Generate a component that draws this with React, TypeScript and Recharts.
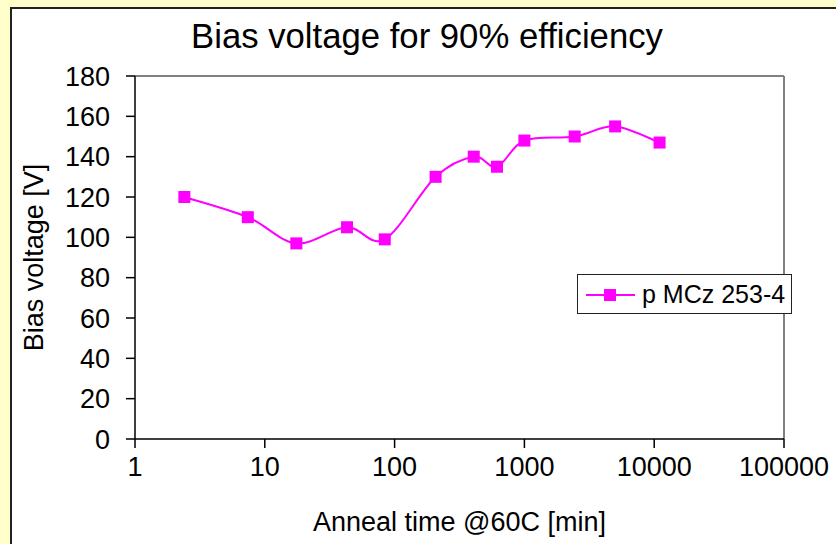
import React from 'react';
import { LineChart, Line, XAxis, YAxis, ReferenceLine, Label, Legend } from 'recharts';

// anneal time at 60C in minutes, and the bias needed for 90% efficiency
const annealMinutes = [2.4, 7.4, 17.5, 43, 84, 207, 407, 615, 1000, 2440, 5000, 11000];
const biasVolts = [120, 110, 97, 105, 99, 130, 140, 135, 148, 150, 155, 147];

const xTicks = [1, 10, 100, 1000, 10000, 100000];
const yTicks = [0, 20, 40, 60, 80, 100, 120, 140, 160, 180];

const seriesName = 'p MCz 253-4';
const chartTitle = 'Bias voltage for 90% efficiency';
const xTitle = 'Anneal time @60C [min]';
const yTitle = 'Bias voltage [V]';

const data = annealMinutes.map((t, i) => ({ t, v: biasVolts[i] }));

const FONT = '"Liberation Sans", Arial, sans-serif';
const MAGENTA = '#FF00FF';

// Excel-style smoothing: cubic bezier with (p2 - p0) / 6 control points
const excelSmooth = (context: any) => {
  let pts: number[][] = [];
  return {
    areaStart() {},
    areaEnd() {},
    lineStart() {
      pts = [];
    },
    point(x: number, y: number) {
      pts.push([+x, +y]);
    },
    lineEnd() {
      if (!pts.length) return;
      context.moveTo(pts[0][0], pts[0][1]);
      for (let i = 0; i < pts.length - 1; i++) {
        const p0 = pts[Math.max(i - 1, 0)];
        const p1 = pts[i];
        const p2 = pts[i + 1];
        const p3 = pts[Math.min(i + 2, pts.length - 1)];
        context.bezierCurveTo(
          p1[0] + (p2[0] - p0[0]) / 6,
          p1[1] + (p2[1] - p0[1]) / 6,
          p2[0] - (p3[0] - p1[0]) / 6,
          p2[1] - (p3[1] - p1[1]) / 6,
          p2[0],
          p2[1]
        );
      }
    },
  };
};

const SquareDot = (props: any) => {
  const { cx, cy, index } = props;
  if (cx == null || cy == null) return null;
  return <rect key={`dot-${index}`} x={cx - 6} y={cy - 6} width={12} height={12} fill={MAGENTA} />;
};

const LegendBox = () => (
  <div
    style={{
      width: 213,
      height: 38,
      border: '1px solid #222',
      background: '#fff',
      display: 'flex',
      alignItems: 'center',
      fontFamily: FONT,
      fontSize: 25,
      color: '#000',
    }}
  >
    <svg width={64} height={38} style={{ flex: 'none' }}>
      <line x1={8} x2={57} y1={20} y2={20} stroke={MAGENTA} strokeWidth={2} />
      <rect x={26} y={14} width={12} height={12} fill={MAGENTA} />
    </svg>
    <span>{seriesName}</span>
  </div>
);

export default function App() {
  return (
    <div
      style={{
        position: 'absolute',
        left: 0,
        top: 0,
        width: 836,
        height: 544,
        overflow: 'hidden',
        background: '#FFFFCC',
      }}
    >
      <div
        style={{
          position: 'absolute',
          left: 10,
          top: 7,
          width: 900,
          height: 600,
          background: '#fff',
          borderLeft: '2px solid #222',
          borderTop: '2px solid #222',
        }}
      />
      <div
        style={{
          position: 'absolute',
          left: 0,
          width: 836,
          top: 19,
          textAlign: 'center',
          paddingLeft: 18,
          boxSizing: 'border-box',
          fontFamily: FONT,
          fontSize: 34.7,
          lineHeight: '34px',
          color: '#000',
        }}
      >
        {chartTitle}
      </div>
      <div style={{ position: 'absolute', left: 0, top: 0 }}>
        <LineChart width={836} height={544} data={data} margin={{ top: 76, right: 52, bottom: 0, left: 0 }}>
          <XAxis
            dataKey="t"
            type="number"
            scale="log"
            domain={[1, 100000]}
            ticks={xTicks}
            allowDataOverflow
            height={105}
            tickSize={9}
            tickMargin={9}
            interval={0}
            axisLine={{ stroke: '#000', strokeWidth: 1.5 }}
            tickLine={{ stroke: '#000', strokeWidth: 1.5 }}
            tick={{ fill: '#000', fontSize: 27, fontFamily: FONT }}
          >
            <Label
              content={({ viewBox }: any) => (
                <text
                  x={viewBox.x + viewBox.width / 2}
                  y={viewBox.y + 92}
                  textAnchor="middle"
                  fontSize={27}
                  fontFamily={FONT}
                  fill="#000"
                >
                  {xTitle}
                </text>
              )}
            />
          </XAxis>
          <YAxis
            dataKey="v"
            domain={[0, 180]}
            ticks={yTicks}
            width={135}
            tickSize={9}
            tickMargin={16}
            interval={0}
            axisLine={{ stroke: '#000', strokeWidth: 1.5 }}
            tickLine={{ stroke: '#000', strokeWidth: 1.5 }}
            tick={{ fill: '#000', fontSize: 27, fontFamily: FONT }}
          >
            <Label
              content={({ viewBox }: any) => {
                const cx = 43;
                const cy = viewBox.y + viewBox.height / 2;
                return (
                  <text
                    x={cx}
                    y={cy}
                    transform={`rotate(-90, ${cx}, ${cy})`}
                    textAnchor="middle"
                    fontSize={27}
                    fontFamily={FONT}
                    fill="#000"
                  >
                    {yTitle}
                  </text>
                );
              }}
            />
          </YAxis>
          <ReferenceLine y={180} stroke="#808080" strokeWidth={2} />
          <ReferenceLine x={100000} stroke="#808080" strokeWidth={2} />
          <Line
            dataKey="v"
            name={seriesName}
            type={excelSmooth as any}
            stroke={MAGENTA}
            strokeWidth={2}
            dot={<SquareDot />}
            activeDot={false}
            isAnimationActive={false}
          />
          <Legend
            layout="vertical"
            align="center"
            verticalAlign="middle"
            content={<LegendBox />}
            wrapperStyle={{ left: 577, top: 274, width: 215, height: 40 }}
          />
        </LineChart>
      </div>
    </div>
  );
}
